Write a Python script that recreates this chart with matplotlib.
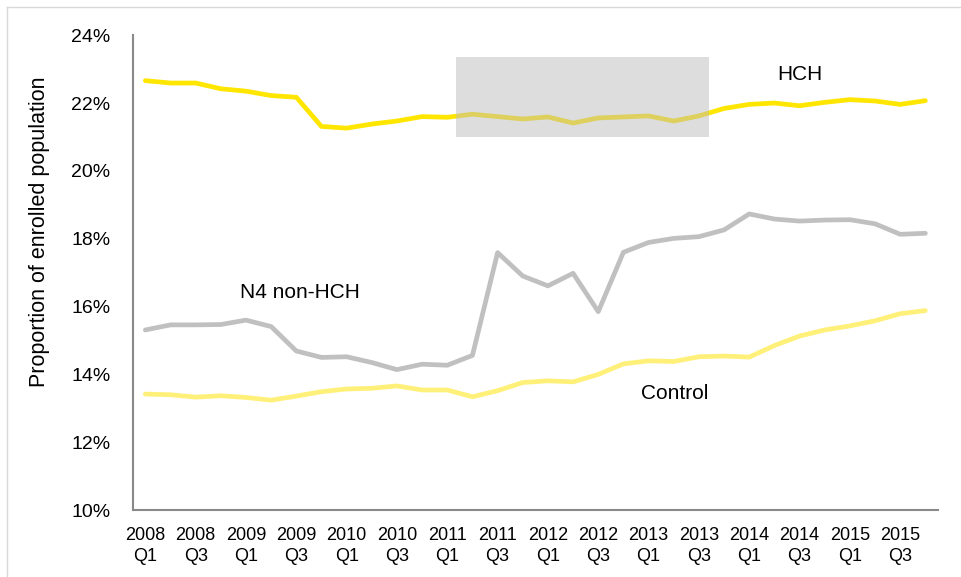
import numpy as np
import matplotlib
matplotlib.use("Agg")
import matplotlib.pyplot as plt
from matplotlib.lines import Line2D
from matplotlib.patches import Rectangle

plt.rcParams['font.family'] = ['Liberation Sans', 'DejaVu Sans']

quarters = [f"{y}\nQ{q}" for y in range(2008, 2016) for q in range(1, 5)]

hch = [22.66, 22.59, 22.59, 22.42, 22.35, 22.22, 22.17, 21.31, 21.26, 21.38,
       21.47, 21.60, 21.58, 21.67, 21.60, 21.53, 21.59, 21.41, 21.56, 21.59,
       21.62, 21.47, 21.62, 21.84, 21.96, 22.00, 21.92, 22.02, 22.10, 22.06,
       21.96, 22.07]
n4_non_hch = [15.31, 15.46, 15.46, 15.47, 15.60, 15.41, 14.69, 14.50, 14.52, 14.35,
              14.14, 14.30, 14.27, 14.56, 17.59, 16.90, 16.61, 16.98, 15.85, 17.60,
              17.89, 18.01, 18.06, 18.26, 18.73, 18.58, 18.52, 18.55, 18.56, 18.44,
              18.13, 18.16]
control = [13.42, 13.40, 13.33, 13.37, 13.32, 13.24, 13.36, 13.49, 13.57, 13.59,
           13.66, 13.54, 13.54, 13.34, 13.52, 13.76, 13.81, 13.78, 14.00, 14.31,
           14.40, 14.38, 14.52, 14.54, 14.51, 14.85, 15.13, 15.31, 15.43, 15.58,
           15.79, 15.88]

x = np.arange(len(quarters))

fig = plt.figure(figsize=(9.62, 5.77), dpi=100)
ax = fig.add_axes([0.138, 0.116, 0.837, 0.823])

ax.plot(x, control, color='#FFF07A', lw=3.4, solid_capstyle='round', zorder=2)
ax.plot(x, n4_non_hch, color='#C0C0C0', lw=3.4, solid_capstyle='round', zorder=2)
ax.plot(x, hch, color='#FFE600', lw=3.4, solid_capstyle='round', zorder=2)

# highlighted period
ax.add_patch(Rectangle((12.35, 21.01), 10.05, 2.34, facecolor='#BCBCBC',
                       alpha=0.5, edgecolor='none', zorder=3))

ax.text(26.0, 22.83, "HCH", fontsize=15, ha='center', va='center')
ax.text(3.75, 16.4, "N4 non-HCH", fontsize=15, ha='left', va='center')
ax.text(21.04, 13.45, "Control", fontsize=15, ha='center', va='center')

ax.set_xlim(-0.5, len(quarters) - 0.5)
ax.set_ylim(10, 24)
ax.set_yticks(np.arange(10, 25, 2))
ax.set_yticklabels([f"{v}%" for v in range(10, 25, 2)], fontsize=14)
ax.set_xticks(x[::2])
ax.set_xticklabels(quarters[::2], fontsize=13, linespacing=1.3)
ax.tick_params(axis='x', length=0, pad=12)
ax.tick_params(axis='y', length=0, pad=16)
ax.set_ylabel("Proportion of enrolled population", fontsize=15.5)
ax.yaxis.set_label_coords(-0.103, 0.587)

for s in ['top', 'right']:
    ax.spines[s].set_visible(False)
for s in ['left', 'bottom']:
    ax.spines[s].set_color('#898989')
    ax.spines[s].set_linewidth(1.5)

# outer frame
fig.add_artist(Line2D([6.5 / 962, 1], [1 - 6.5 / 577] * 2, color='#D9D9D9', lw=1))
fig.add_artist(Line2D([6.5 / 962] * 2, [0, 1 - 6.5 / 577], color='#D9D9D9', lw=1))

fig.savefig("out.png", dpi=100)
